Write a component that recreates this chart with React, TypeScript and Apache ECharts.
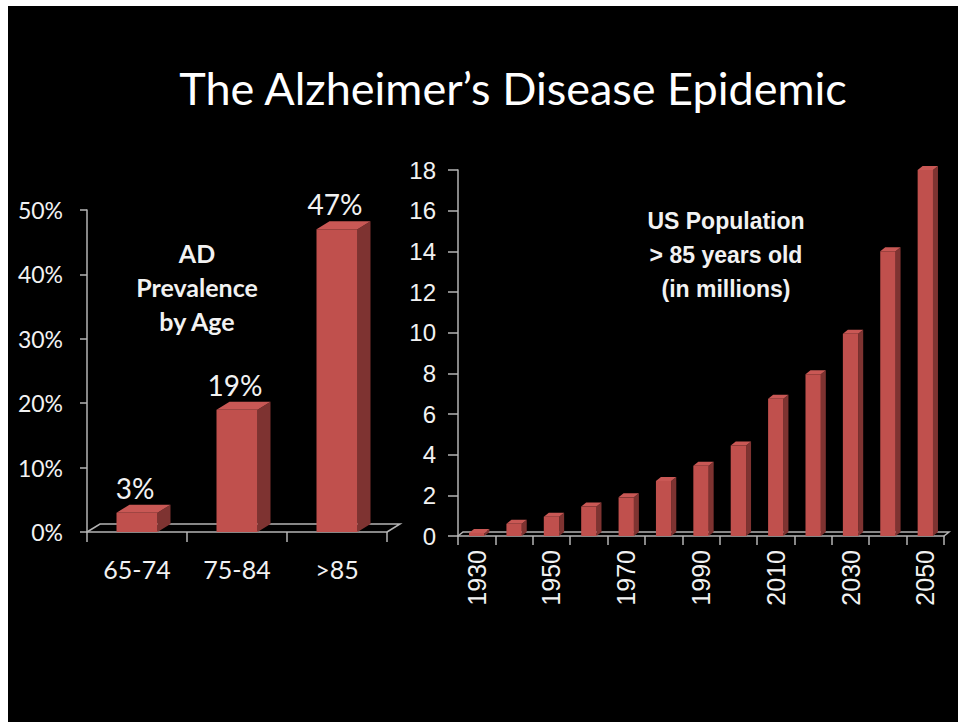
import React, { useEffect, useRef } from "react";
import * as echarts from "echarts";

const titleText = "The Alzheimer\u2019s Disease Epidemic";
const ageCategories = ["65-74", "75-84", ">85"];
const ageValues = [3, 19, 47];
const ageNote = ["AD", "Prevalence", "by Age"];
const years = ["1930", "1940", "1950", "1960", "1970", "1980", "1990", "2000", "2010", "2020", "2030", "2040", "2050"];
const popValues = [0.15, 0.6, 0.95, 1.45, 1.9, 2.7, 3.45, 4.45, 6.75, 7.95, 9.95, 14, 18];
const popNote = ["US Population", "> 85 years old", "(in millions)"];

const FRONT = "#c0504d";
const SIDE = "#7e3331";
const TOP = "#c95855";
const AXIS = "#b4b4b4";
const TXT = "#f2f2f2";

function make3D(dx: number, dy: number, n: number, withLabel: boolean) {
  return (params: any, api: any) => {
    const idx = api.value(0);
    const val = api.value(1);
    const p = api.coord([idx, val]);
    const b = api.coord([idx, 0]);
    const bw = api.size([1, 0])[0];
    const w = bw * 0.41;
    const x = p[0] - w / 2;
    const yt = p[1];
    const yb = b[1];
    const children: any[] = [];
    if (params.dataIndex === 0) {
      const left = b[0] - bw / 2;
      const right = left + bw * n;
      children.push({
        type: "polyline",
        shape: { points: [[left, yb], [left + dx, yb + dy], [right + dx, yb + dy], [right, yb]] },
        style: { stroke: AXIS, lineWidth: 1.5, fill: null },
        silent: true,
      });
    }
    children.push({
      type: "polygon",
      shape: { points: [[x + w, yt], [x + w + dx, yt + dy], [x + w + dx, yb + dy], [x + w, yb]] },
      style: { fill: SIDE },
    });
    children.push({
      type: "polygon",
      shape: { points: [[x, yt], [x + dx, yt + dy], [x + w + dx, yt + dy], [x + w, yt]] },
      style: { fill: TOP },
    });
    children.push({
      type: "rect",
      shape: { x, y: yt, width: w, height: yb - yt },
      style: { fill: FRONT },
    });
    if (withLabel) {
      children.push({
        type: "text",
        x: p[0] - 2,
        y: yt - 11,
        style: {
          text: val + "%",
          fill: TXT,
          font: "28px Lato",
          align: "center",
          verticalAlign: "bottom",
        },
      });
    }
    return { type: "group", children };
  };
}

export default function App() {
  const ref = useRef<HTMLDivElement>(null);
  useEffect(() => {
    if (!ref.current) return;
    const chart = echarts.init(ref.current, undefined, { renderer: "svg" });
    chart.setOption({
      animation: false,
      backgroundColor: "#000000",
      grid: [
        { left: 79, top: 204, width: 300, height: 322 },
        { left: 450, top: 164, width: 486, height: 366 },
      ],
      xAxis: [
        {
          gridIndex: 0,
          type: "category",
          data: ageCategories,
          axisLine: { lineStyle: { color: AXIS, width: 1.5 } },
          axisTick: { show: true, length: 10, lineStyle: { color: AXIS, width: 1.5 } },
          axisLabel: { color: TXT, fontFamily: "Lato", fontSize: 25, margin: 24 },
        },
        {
          gridIndex: 1,
          type: "category",
          data: years,
          axisLine: { lineStyle: { color: AXIS, width: 1.5 } },
          axisTick: { show: true, length: 9, interval: 0, lineStyle: { color: AXIS, width: 1.5 } },
          axisLabel: {
            color: TXT,
            fontFamily: "Liberation Sans",
            fontSize: 25,
            rotate: 90,
            interval: 1,
            margin: 14,
          },
        },
      ],
      yAxis: [
        {
          gridIndex: 0,
          type: "value",
          min: 0,
          max: 50,
          interval: 10,
          splitLine: { show: false },
          axisLine: { show: true, lineStyle: { color: AXIS, width: 1.5 } },
          axisTick: { show: true, length: 7, lineStyle: { color: AXIS, width: 1.5 } },
          axisLabel: { color: TXT, fontFamily: "Lato", fontSize: 23, margin: 24, formatter: "{value}%" },
        },
        {
          gridIndex: 1,
          type: "value",
          min: 0,
          max: 18,
          interval: 2,
          splitLine: { show: false },
          axisLine: { show: true, lineStyle: { color: AXIS, width: 1.5 } },
          axisTick: { show: true, length: 10, lineStyle: { color: AXIS, width: 1.5 } },
          axisLabel: { color: TXT, fontFamily: "Liberation Sans", fontSize: 24, margin: 22 },
        },
      ],
      series: [
        {
          type: "custom",
          xAxisIndex: 0,
          yAxisIndex: 0,
          data: ageValues.map((v, i) => [i, v]),
          renderItem: make3D(13, -8, ageCategories.length, true),
        },
        {
          type: "custom",
          xAxisIndex: 1,
          yAxisIndex: 1,
          data: popValues.map((v, i) => [i, v]),
          renderItem: make3D(5, -4, years.length, false),
        },
      ],
      graphic: [
        {
          type: "text",
          x: 505,
          y: 82,
          style: {
            text: titleText,
            fill: "#ffffff",
            font: "45px Lato",
            align: "center",
            verticalAlign: "middle",
          },
        },
        {
          type: "text",
          x: 189,
          y: 230,
          style: {
            text: ageNote.join("\n"),
            fill: TXT,
            font: "bold 25px Lato",
            lineHeight: 34,
            align: "center",
            verticalAlign: "top",
          },
        },
        {
          type: "text",
          x: 718,
          y: 198,
          style: {
            text: popNote.join("\n"),
            fill: TXT,
            font: "bold 23px 'Liberation Sans'",
            lineHeight: 34,
            align: "center",
            verticalAlign: "top",
          },
        },
      ],
    });
    return () => chart.dispose();
  }, []);
  return (
    <div
      ref={ref}
      style={{ position: "absolute", left: 8, top: 6, width: 950, height: 716, background: "#000" }}
    />
  );
}
